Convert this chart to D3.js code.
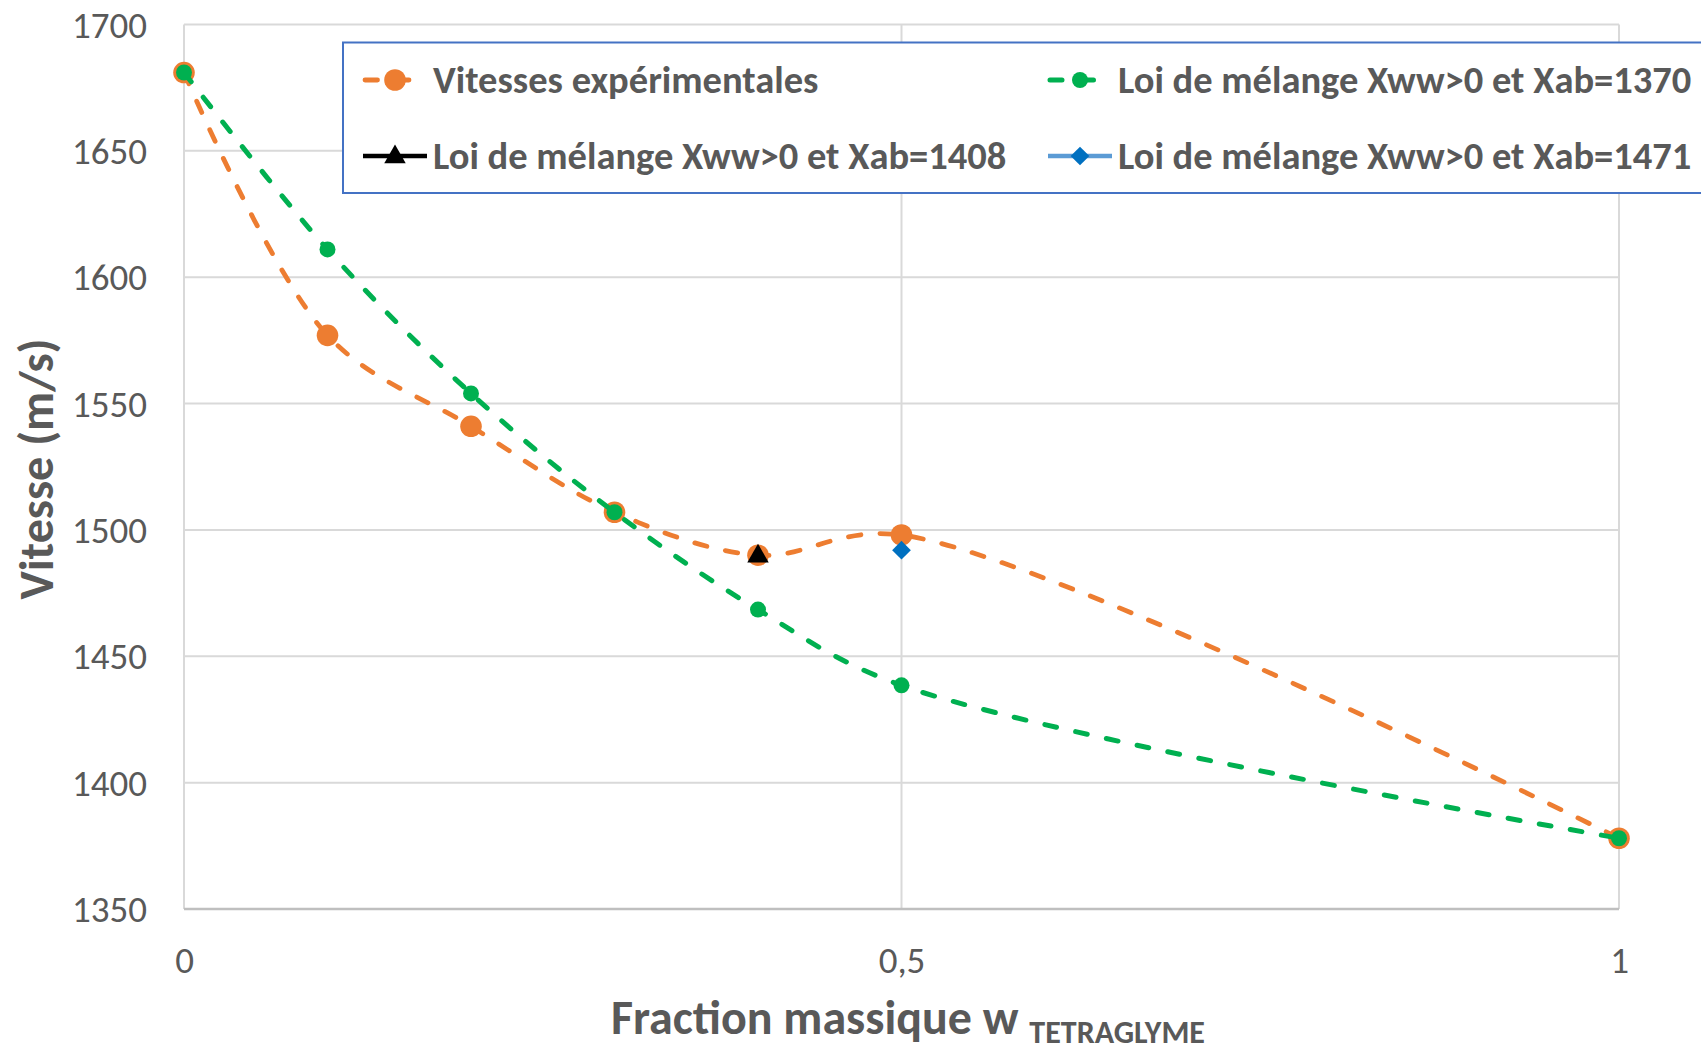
<!DOCTYPE html>
<html>
<head>
<meta charset="utf-8">
<script src="https://cdn.jsdelivr.net/npm/d3@7"></script>
<style>
  body { margin: 0; background: #fff; }
  svg text { font-family: Carlito, Calibri, "Open Sans", sans-serif; fill: #595959; }
</style>
</head>
<body>
<div id="chart"></div>
<script>
// data
let fractions = [0, 0.1, 0.2, 0.3, 0.4, 0.5, 1];
let experimental = [1681, 1577, 1541, 1507, 1490, 1498, 1378];
let mix1370 = [1681, 1611, 1554, 1507, 1468.5, 1438.5, 1378];
let mix1408 = [{x: 0.4, y: 1490}];
let mix1471 = [{x: 0.5, y: 1492}];
let yTicks = [1350, 1400, 1450, 1500, 1550, 1600, 1650, 1700];
let xTicks = [0, 0.5, 1];
let legendNames = ["Vitesses expérimentales", "Loi de mélange Xww>0 et Xab=1370",
                   "Loi de mélange Xww>0 et Xab=1408", "Loi de mélange Xww>0 et Xab=1471"];

let width = 1701, height = 1048;
let margin = {top: 24.5, left: 184, right: 82, bottom: 139};

let svg = d3.select("#chart").append("svg")
    .attr("width", width)
    .attr("height", height);

let x = d3.scaleLinear().domain([0, 1]).range([margin.left, width - margin.right]);
let y = d3.scaleLinear().domain([1350, 1700]).range([height - margin.bottom, margin.top]);

let frLocale = d3.formatLocale({decimal: ",", thousands: " ", grouping: [3], currency: ["", "€"]});

// horizontal grid
svg.append("g").selectAll("line")
    .data(yTicks.slice(1))
    .join("line")
    .attr("x1", x(0)).attr("x2", x(1))
    .attr("y1", d => y(d)).attr("y2", d => y(d))
    .attr("stroke", "#d9d9d9").attr("stroke-width", 2);

// vertical grid
svg.append("g").selectAll("line")
    .data(xTicks)
    .join("line")
    .attr("x1", d => x(d)).attr("x2", d => x(d))
    .attr("y1", y(1700)).attr("y2", y(1350))
    .attr("stroke", "#d9d9d9").attr("stroke-width", 2);

// bottom axis line
svg.append("line")
    .attr("x1", x(0)).attr("x2", x(1))
    .attr("y1", y(1350)).attr("y2", y(1350))
    .attr("stroke", "#bfbfbf").attr("stroke-width", 2.5);

// axes (labels only)
let yAxis = svg.append("g")
    .attr("transform", "translate(" + margin.left + ",0)")
    .call(d3.axisLeft(y).tickValues(yTicks).tickSize(0).tickPadding(37).tickFormat(d3.format("d")));
yAxis.select(".domain").remove();
yAxis.selectAll("text").attr("font-size", 37).attr("dy", "0.34em");

let xAxis = svg.append("g")
    .attr("transform", "translate(0," + y(1350) + ")")
    .call(d3.axisBottom(x).tickValues(xTicks).tickSize(0).tickPadding(38).tickFormat(frLocale.format("~g")));
xAxis.select(".domain").remove();
xAxis.selectAll("text").attr("font-size", 37);
svg.selectAll(".tick text").attr("fill", "#595959");
yAxis.attr("font-family", null).attr("font-size", null);
xAxis.attr("font-family", null).attr("font-size", null);

// axis titles
svg.append("text")
    .attr("transform", "translate(36,469) rotate(-90)")
    .attr("text-anchor", "middle")
    .attr("dy", "0.35em")
    .attr("font-size", 48)
    .attr("font-weight", 700)
    .text("Vitesse (m/s)");

let xTitle = svg.append("text")
    .attr("x", 908).attr("y", 1034)
    .attr("text-anchor", "middle")
    .attr("font-weight", 700);
xTitle.append("tspan").attr("font-size", 48).text("Fraction massique w ");
xTitle.append("tspan").attr("font-size", 32).attr("dy", 9).text("TETRAGLYME");

// series
let expPts = fractions.map((f, i) => ({x: f, y: experimental[i]}));
let mixPts = fractions.map((f, i) => ({x: f, y: mix1370[i]}));

let line = d3.line()
    .x(d => x(d.x)).y(d => y(d.y))
    .curve(d3.curveCatmullRom.alpha(0.5));

svg.append("path")
    .datum(expPts)
    .attr("d", line)
    .attr("fill", "none")
    .attr("stroke", "#ED7D31").attr("stroke-width", 4.8)
    .attr("stroke-dasharray", "12.5,19").attr("stroke-linecap", "round");

svg.append("g").selectAll("circle")
    .data(expPts)
    .join("circle")
    .attr("cx", d => x(d.x)).attr("cy", d => y(d.y))
    .attr("r", 10.8).attr("fill", "#ED7D31");

svg.append("path")
    .datum(mixPts)
    .attr("d", line)
    .attr("fill", "none")
    .attr("stroke", "#00B050").attr("stroke-width", 5)
    .attr("stroke-dasharray", "12,19.5").attr("stroke-linecap", "round");

svg.append("g").selectAll("circle")
    .data(mixPts)
    .join("circle")
    .attr("cx", d => x(d.x)).attr("cy", d => y(d.y))
    .attr("r", 8).attr("fill", "#00B050");

let triangle = d3.symbol().type(d3.symbolTriangle).size(200);
let diamond = d3.symbol().type(d3.symbolSquare).size(175);

svg.append("g").selectAll("path")
    .data(mix1408)
    .join("path")
    .attr("transform", d => "translate(" + x(d.x) + "," + (y(d.y) + 1) + ")")
    .attr("d", triangle).attr("fill", "#000");

svg.append("g").selectAll("path")
    .data(mix1471)
    .join("path")
    .attr("transform", d => "translate(" + x(d.x) + "," + y(d.y) + ") rotate(45)")
    .attr("d", diamond).attr("fill", "#0070C0");

// legend
let legend = svg.append("g");
legend.append("rect")
    .attr("x", 343).attr("y", 42.5)
    .attr("width", 1400).attr("height", 150.5)
    .attr("fill", "#fff")
    .attr("stroke", "#4472C4").attr("stroke-width", 2);

let legendPos = [{x: 363, y: 80}, {x: 1048, y: 80}, {x: 363, y: 156}, {x: 1048, y: 156}];
let items = legend.selectAll("g.item")
    .data(legendNames)
    .join("g")
    .attr("class", "item")
    .attr("transform", (d, i) => "translate(" + legendPos[i].x + "," + legendPos[i].y + ")");

items.append("text")
    .attr("x", 70).attr("dy", "0.34em")
    .attr("font-size", 38.5).attr("font-weight", 700)
    .text(d => d);

// legend symbols
let s0 = d3.select(items.nodes()[0]);
s0.append("line").attr("x1", 2).attr("x2", 62).attr("stroke", "#ED7D31")
    .attr("stroke-width", 4.8).attr("stroke-dasharray", "12.5,19").attr("stroke-linecap", "round");
s0.append("circle").attr("cx", 32).attr("r", 10.8).attr("fill", "#ED7D31");

let s1 = d3.select(items.nodes()[1]);
s1.append("line").attr("x1", 2).attr("x2", 62).attr("stroke", "#00B050")
    .attr("stroke-width", 5).attr("stroke-dasharray", "12,19.5").attr("stroke-linecap", "round");
s1.append("circle").attr("cx", 32).attr("r", 8).attr("fill", "#00B050");

let s2 = d3.select(items.nodes()[2]);
s2.append("line").attr("x1", 0).attr("x2", 64).attr("stroke", "#000").attr("stroke-width", 4.5);
s2.append("path").attr("transform", "translate(32,1)").attr("d", triangle).attr("fill", "#000");

let s3 = d3.select(items.nodes()[3]);
s3.append("line").attr("x1", 0).attr("x2", 64).attr("stroke", "#5B9BD5").attr("stroke-width", 4.5);
s3.append("path").attr("transform", "translate(32,0) rotate(45)").attr("d", diamond).attr("fill", "#0070C0");
</script>
</body>
</html>
